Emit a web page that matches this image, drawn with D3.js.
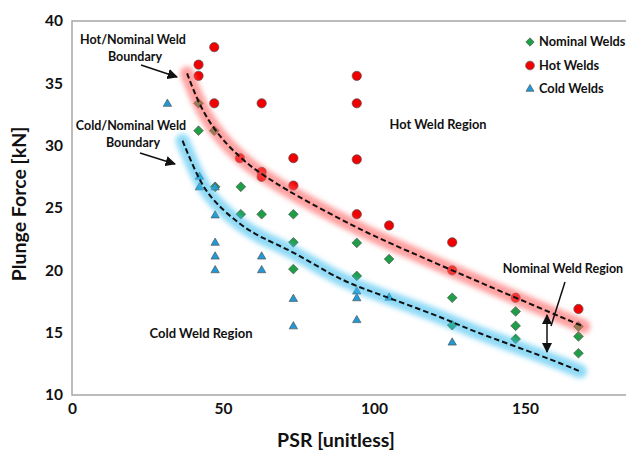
<!DOCTYPE html>
<html><head><meta charset="utf-8">
<script src="https://cdn.jsdelivr.net/npm/d3@7"></script>
<style>
html,body{margin:0;padding:0;background:#fff;overflow:hidden}
text{font-family:Lato,"Open Sans",sans-serif;font-weight:bold;fill:#111}
</style></head>
<body><svg id="c" width="626" height="455"></svg>
<script>
// ---- data ----
const xTicks = [0, 50, 100, 150];
const yTicks = [10, 15, 20, 25, 30, 35, 40];
const seriesNames = ["Nominal Welds", "Hot Welds", "Cold Welds"];
const nominalWelds = [[41.9,33.4],[41.9,31.2],[47.1,31.2],[47.4,26.7],[55.9,26.7],[55.9,24.5],[62.8,24.5],[73.3,24.5],[73.3,22.25],[73.3,20.1],[94.3,22.2],[94.3,19.55],[105,20.9],[125.9,17.8],[125.9,15.6],[146.9,16.7],[146.9,15.55],[146.9,14.5],[167.7,15.5],[167.7,14.7],[167.7,13.35]];
const hotWelds = [[47.1,37.9],[41.9,36.5],[41.9,35.6],[47.1,33.4],[62.8,33.4],[94.3,35.6],[94.3,33.4],[94.3,28.9],[94.3,24.5],[55.6,29.0],[62.8,27.9],[62.8,27.5],[73.3,29.0],[73.3,26.8],[105,23.6],[125.9,22.25],[125.9,20.0],[146.9,17.8],[167.7,16.9]];
const coldWelds = [[31.6,33.35],[42.2,27.5],[42.2,26.65],[47.4,26.65],[47.4,24.4],[47.4,22.2],[47.4,21.1],[47.4,20.0],[62.8,21.1],[62.8,20.0],[73.3,17.7],[73.3,15.5],[94.3,18.3],[94.3,17.75],[94.3,16.0],[105,17.8],[125.9,14.2]];
const hotBoundary = [[38.1,35.8],[41.9,33.4],[47.1,31.2],[55.6,29.0],[62.8,27.7],[73.3,26.1],[94.3,23.4],[105,22.2],[125.9,20.0],[146.9,17.8],[169.3,15.5]];
const coldBoundary = [[36.6,30.4],[42.4,27.0],[47.4,25.4],[55.9,23.6],[62.8,22.6],[73.3,21.5],[85.4,19.7],[94.3,18.7],[105,17.8],[125.9,15.9],[131.8,15.2],[157.2,13.0],[168.2,11.9]];

const svg = d3.select("#c");
const x = d3.scaleLinear().domain([0, 200]).range([72, 676]);
const y = d3.scaleLinear().domain([10, 40]).range([395, 21]);

const defs = svg.append("defs");
defs.append("filter").attr("id","blur").attr("x","-20%").attr("y","-20%").attr("width","140%").attr("height","140%")
  .append("feGaussianBlur").attr("stdDeviation", 2.5);

// axes frame
svg.append("rect").attr("x", x(0)).attr("y", y(40)).attr("width", x(200)-x(0)).attr("height", y(10)-y(40))
  .attr("fill","none").attr("stroke","#a6a6a6").attr("stroke-width",1.5);

const xAxis = d3.axisBottom(x).tickValues(xTicks).tickSize(0).tickPadding(8);
const gx = svg.append("g").attr("transform",`translate(0,${y(10)})`).call(xAxis);
gx.select(".domain").remove();
gx.selectAll("text").attr("font-size",15.5).style("font-family","Lato,sans-serif").style("font-weight","bold").attr("fill","#111");
const yAxis = d3.axisLeft(y).tickValues(yTicks).tickSize(0).tickPadding(9);
const gy = svg.append("g").attr("transform",`translate(${x(0)},0)`).call(yAxis);
gy.select(".domain").remove();
gy.selectAll("text").attr("font-size",15.5).style("font-family","Lato,sans-serif").style("font-weight","bold").attr("fill","#111");

// axis titles
svg.append("text").attr("x",336).attr("y",447).attr("text-anchor","middle").attr("font-size",19.5).text("PSR [unitless]");
svg.append("text").attr("transform","translate(26,204) rotate(-90)").attr("text-anchor","middle").attr("font-size",19.5).text("Plunge Force [kN]");

// markers
const sym = {
  nominal: d3.symbol().type(d3.symbolDiamond2).size(60),
  hot: d3.symbol().type(d3.symbolCircle).size(68),
  cold: d3.symbol().type(d3.symbolTriangle2).size(50)
};
function drawSeries(data, gen, fill){
  svg.append("g").selectAll("path").data(data).join("path")
    .attr("transform", d => `translate(${x(d[0])},${y(d[1])})`)
    .attr("d", gen).attr("fill", fill).attr("stroke","#555").attr("stroke-width",0.7);
}
drawSeries(nominalWelds, sym.nominal, "#1e9e46");
drawSeries(hotWelds, sym.hot, "#f20000");
drawSeries(coldWelds, sym.cold, "#1e9ad8");

// boundaries
const line = d3.line().x(d => x(d[0])).y(d => y(d[1])).curve(d3.curveBasis);
svg.append("path").datum(hotBoundary).attr("d", line).attr("fill","none")
  .attr("stroke","#ff5c5c").attr("stroke-opacity",0.58).attr("stroke-width",14).attr("stroke-linecap","round").attr("filter","url(#blur)");
svg.append("path").datum(coldBoundary).attr("d", line).attr("fill","none")
  .attr("stroke","#3cc0f0").attr("stroke-opacity",0.58).attr("stroke-width",14).attr("stroke-linecap","round").attr("filter","url(#blur)");
[hotBoundary, coldBoundary].forEach(b => {
  svg.append("path").datum(b).attr("d", line).attr("fill","none")
    .attr("stroke","#111").attr("stroke-width",2).attr("stroke-dasharray","5.5,3");
});

// legend
const legend = [
  {name: seriesNames[0], gen: d3.symbol().type(d3.symbolDiamond2).size(45), fill: "#1e9e46"},
  {name: seriesNames[1], gen: d3.symbol().type(d3.symbolCircle).size(60), fill: "#f20000"},
  {name: seriesNames[2], gen: d3.symbol().type(d3.symbolTriangle2).size(45), fill: "#1e9ad8"}
];
const lg = svg.append("g");
legend.forEach((l, i) => {
  const cy = 42 + i * 23.5;
  lg.append("path").attr("transform",`translate(530,${cy})`).attr("d", l.gen).attr("fill", l.fill).attr("stroke","#555").attr("stroke-width",0.7);
  lg.append("text").attr("x",539).attr("y",cy).attr("dy","0.35em").attr("font-size",12.8).text(l.name);
});

// annotations
defs.append("marker").attr("id","ah").attr("viewBox","0 0 10 10").attr("refX",9).attr("refY",5)
  .attr("markerWidth",7).attr("markerHeight",7).attr("orient","auto-start-reverse")
  .append("path").attr("d","M0,0L10,5L0,10z").attr("fill","#111");
function label(txt, cx, cy, fs){ svg.append("text").attr("x",cx).attr("y",cy).attr("dy","0.35em").attr("text-anchor","middle").attr("font-size",fs).text(txt); }
label("Hot/Nominal Weld", 133, 40, 12.5);
label("Boundary", 135, 57, 12.5);
label("Cold/Nominal Weld", 131, 126, 12.5);
label("Boundary", 133, 143, 12.5);
label("Hot Weld Region", 438, 125, 12.8);
label("Cold Weld Region", 201, 333, 13);
label("Nominal Weld Region", 563, 269, 12.5);
function arrow(x1,y1,x2,y2,both){
  const p = svg.append("line").attr("x1",x1).attr("y1",y1).attr("x2",x2).attr("y2",y2)
    .attr("stroke","#111").attr("stroke-width",1.5).attr("marker-end","url(#ah)");
  if(both) p.attr("marker-start","url(#ah)");
}
arrow(141,65,177,77);
arrow(140,153,175,164);
arrow(547,315,547,352,true);
svg.append("line").attr("x1",565).attr("y1",282).attr("x2",551).attr("y2",326).attr("stroke","#111").attr("stroke-width",1.5);
</script></body></html>
